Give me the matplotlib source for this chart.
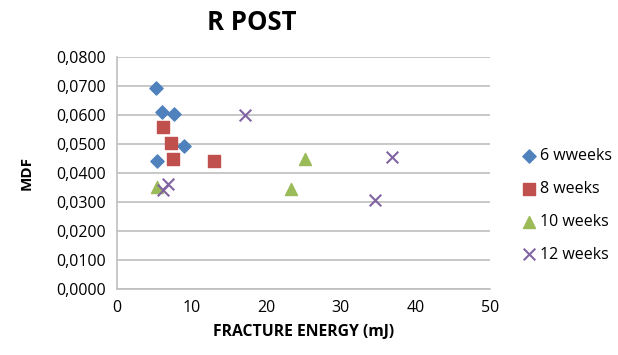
import matplotlib.pyplot as plt
from matplotlib.ticker import FuncFormatter

plt.rcParams['font.family'] = ['Open Sans', 'DejaVu Sans']

# fracture energy (mJ) and MDF per group
x6 = [5.2, 6.0, 7.6, 9.0, 5.3]
y6 = [0.0692, 0.0609, 0.0602, 0.0493, 0.0441]
x8 = [6.1, 7.2, 7.5, 13.0]
y8 = [0.0558, 0.0504, 0.0448, 0.0441]
x10 = [5.3, 25.2, 23.3]
y10 = [0.0353, 0.0447, 0.0345]
x12 = [6.2, 6.9, 17.2, 36.9, 34.6]
y12 = [0.0341, 0.0361, 0.0600, 0.0456, 0.0307]

labels = ['6 wweeks', '8 weeks', '10 weeks', '12 weeks']

fig = plt.figure(figsize=(6.18, 3.55), dpi=100)
ax = fig.add_axes([117/618, 1 - 289/355, (490-117)/618, (289-57)/355])

ax.scatter(x6, y6, marker='D', s=45, color='#4F81BD', label=labels[0], zorder=3)
ax.scatter(x8, y8, marker='s', s=75, color='#C0504D', label=labels[1], zorder=3)
ax.scatter(x10, y10, marker='^', s=75, color='#9BBB59', label=labels[2], zorder=3)
ax.scatter(x12, y12, marker='x', s=70, color='#8064A2', linewidths=1.5, label=labels[3], zorder=3)

ax.set_xlim(0, 50)
ax.set_ylim(0, 0.08)
ax.set_xticks(range(0, 51, 10))
ax.set_yticks([i * 0.01 for i in range(9)])
ax.yaxis.set_major_formatter(FuncFormatter(lambda v, p: f"{v:.4f}".replace('.', ',')))
ax.grid(axis='y', color='#BFBFBF', linewidth=1.2)
ax.set_axisbelow(True)
for s in ['top', 'right']:
    ax.spines[s].set_visible(False)
for s in ['left', 'bottom']:
    ax.spines[s].set_color('#BFBFBF')
    ax.spines[s].set_linewidth(1.2)
ax.tick_params(length=0, labelsize=11.5, pad=8)

ax.set_xlabel('FRACTURE ENERGY (mJ)', fontsize=11.3, fontweight='bold', labelpad=6)
ax.set_ylabel('MDF', fontsize=11, fontweight='bold', labelpad=16)
fig.text(252/618, 1 - 22/355, 'R POST', fontsize=18.5, fontweight='bold', ha='center', va='center')

ax.legend(loc='center left', bbox_to_anchor=(1.04, 0.36), frameon=False, fontsize=11.5,
          handletextpad=0.1, labelspacing=1.05, handlelength=1.2)

fig.savefig('out.png', dpi=100)
